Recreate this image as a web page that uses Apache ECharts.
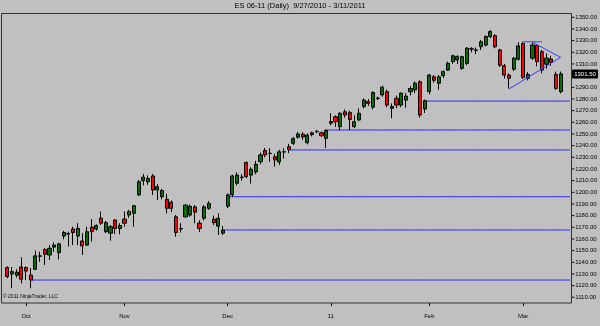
<!DOCTYPE html>
<html><head><meta charset="utf-8">
<script src="https://cdn.jsdelivr.net/npm/echarts@6/dist/echarts.min.js"></script>
<style>html,body{margin:0;padding:0;background:#c0c0c0;}#c{width:600px;height:326px;}</style>
</head><body><div id="c"></div>
<script>
const dates = ['9/27/2010','9/28/2010','9/29/2010','9/30/2010','10/1/2010','10/4/2010','10/5/2010','10/6/2010','10/7/2010','10/8/2010','10/11/2010','10/12/2010','10/13/2010','10/14/2010','10/15/2010','10/18/2010','10/19/2010','10/20/2010','10/21/2010','10/22/2010','10/25/2010','10/26/2010','10/27/2010','10/28/2010','10/29/2010','11/1/2010','11/2/2010','11/3/2010','11/4/2010','11/5/2010','11/8/2010','11/9/2010','11/10/2010','11/11/2010','11/12/2010','11/15/2010','11/16/2010','11/17/2010','11/18/2010','11/19/2010','11/22/2010','11/23/2010','11/24/2010','11/25/2010','11/26/2010','11/29/2010','11/30/2010','12/1/2010','12/2/2010','12/3/2010','12/6/2010','12/7/2010','12/8/2010','12/9/2010','12/10/2010','12/13/2010','12/14/2010','12/15/2010','12/16/2010','12/17/2010','12/20/2010','12/21/2010','12/22/2010','12/23/2010','12/27/2010','12/28/2010','12/29/2010','12/30/2010','12/31/2010','1/3/2011','1/4/2011','1/5/2011','1/6/2011','1/7/2011','1/10/2011','1/11/2011','1/12/2011','1/13/2011','1/14/2011','1/17/2011','1/18/2011','1/19/2011','1/20/2011','1/21/2011','1/24/2011','1/25/2011','1/26/2011','1/27/2011','1/28/2011','1/31/2011','2/1/2011','2/2/2011','2/3/2011','2/4/2011','2/7/2011','2/8/2011','2/9/2011','2/10/2011','2/11/2011','2/14/2011','2/15/2011','2/16/2011','2/17/2011','2/18/2011','2/21/2011','2/22/2011','2/23/2011','2/24/2011','2/25/2011','2/28/2011','3/1/2011','3/2/2011','3/3/2011','3/4/2011','3/7/2011','3/8/2011','3/9/2011','3/10/2011','3/11/2011'];
const opens = [1135.5,1130,1129,1136,1135.5,1129,1134,1145.5,1151,1146.25,1153,1148.25,1162.5,1164.5,1168.5,1162.5,1158.25,1154.75,1170,1168.5,1177.75,1166.25,1165,1176.25,1169,1177,1180.5,1182,1197.75,1210,1209,1214,1202,1196.25,1194,1191.5,1179,1169,1179,1180.5,1187.5,1173.5,1177.75,1186.25,1177,1171,1165,1188,1198,1207.75,1213,1225.5,1214.75,1217.5,1226.25,1235.75,1233.5,1230.5,1226,1234.75,1239,1242,1247.25,1249.75,1242.5,1251,1252.25,1251,1246.25,1259.25,1264.75,1256.25,1269,1268.25,1256.25,1262,1273.5,1277.75,1273,1280.75,1283.5,1286.25,1272,1280.5,1274.75,1279,1286.25,1287.75,1294.75,1271.5,1286.25,1299,1293.5,1300,1304.75,1312,1313.5,1306.25,1310.5,1322.75,1322,1324.75,1326.25,1333.5,1334.25,1322,1308.5,1300.5,1305.5,1314,1327.5,1297.75,1315,1325.75,1320.5,1309.75,1314.25,1301,1286.25];
const highs = [1136.5,1136,1134,1144.25,1136.5,1135,1150,1149,1152,1154.75,1157,1156.75,1167,1166.25,1170.5,1173.5,1165,1170.5,1177,1172.5,1183.5,1175.5,1172,1177,1173.5,1183.5,1185,1189,1210.5,1215.75,1214.5,1215.75,1207,1203,1199,1193,1180.5,1173.5,1190,1189.5,1189,1176,1189,1192.5,1180,1182,1171,1199,1215,1217,1215.5,1226.5,1221.5,1227,1234,1238,1237.75,1233,1236.5,1237.75,1241.5,1247.5,1251.5,1251.5,1250.5,1252,1253.5,1252,1254,1267.75,1266,1268.5,1271,1270,1266,1272,1280.5,1280,1286.5,1282,1291.5,1288,1276.25,1283,1285.5,1285,1291,1295,1296,1279.5,1301.5,1300.5,1300.5,1304.5,1312,1318,1317.5,1317,1324.5,1324.5,1324,1330.5,1334.5,1339,1335.5,1323,1310,1302,1316,1328.5,1329,1303,1328.5,1327,1322,1319,1317,1303.5,1303.5];
const lows = [1126.25,1117.75,1127,1122,1124.75,1117.75,1133.5,1140.5,1137.75,1142,1149,1142.5,1159.75,1153.5,1154.75,1154.75,1146.25,1154,1157.75,1167,1172,1165,1158.5,1164.25,1164,1170.5,1178,1170.5,1196.75,1206,1206.5,1197.75,1193.5,1194,1182,1183,1162,1165.5,1178,1179,1173.5,1166,1176,1185,1172,1163.5,1163.5,1186.5,1196,1206,1210,1212,1207.5,1215.5,1224,1230,1226.25,1222,1223.5,1229,1233.5,1240.5,1246,1245,1241,1248,1250.5,1247.5,1238,1257.5,1256,1253,1264,1253.5,1255,1261,1272,1274,1271,1279,1282,1273,1263.5,1272,1273,1272.5,1283,1285,1264,1268,1284,1294,1288,1298,1304,1310,1310,1305,1309,1320,1318.5,1322,1325,1332,1323.5,1307.5,1297.5,1289,1304,1313,1297,1296,1313.5,1308,1302,1306,1308.5,1287.75,1284.75];
const closes = [1127.75,1132,1131.5,1125.5,1132.5,1124.75,1145.5,1145.25,1147,1152,1154.75,1155.75,1165.5,1164.25,1165.5,1169,1154,1166.25,1166.25,1171.5,1173.5,1174,1170.5,1169,1171.5,1173.5,1183.5,1188.5,1209,1213,1212,1202,1204.75,1201.5,1186.25,1186.25,1165.5,1168.5,1189,1188,1183,1169,1187.5,1190.5,1174,1177.75,1167.5,1197.75,1214,1214.75,1212.75,1213.5,1219.75,1224,1232,1232,1233.25,1227.75,1234.75,1234.5,1236.5,1246,1250,1247.5,1249,1249.5,1252,1248.5,1253,1260.5,1260.5,1267.75,1266.25,1262.5,1260.5,1267.75,1279,1276.25,1285.5,1280.5,1290,1274.75,1273.5,1274.75,1285,1282.5,1289,1293.5,1266.25,1278.5,1300.5,1296,1299,1303.5,1310.5,1317,1316.25,1316.25,1323.5,1323,1321.75,1329,1333.5,1337.75,1324.75,1309,1300.5,1297.75,1315,1325.5,1298.5,1301,1326.25,1312,1304.75,1315,1311.5,1289,1301.5];
const padDates = ['3/14/2011','3/15/2011'];
const supportLevels = [1124.8, 1167.7, 1196.2, 1236.3, 1253.4, 1278.2];
const supportFrom = ['10/4/2010','11/30/2010','12/1/2010','12/20/2010','12/31/2010','1/31/2011'];
const triangleFrom = ['2/24/2011','3/3/2011','3/1/2011'];
const triangleTo = ['3/11/2011','3/11/2011','3/7/2011'];
const triangleFromPrice = [1288.5, 1328.6, 1329.0];
const triangleToPrice = [1315.7, 1315.7, 1329.0];
const monthLabels = {'10/1/2010':'Oct','11/1/2010':'Nov','12/1/2010':'Dec','1/3/2011':'11','2/1/2011':'Feb','3/1/2011':'Mar'};
const yTicks = [1110,1350];

const cats = dates.concat(padDates);
const ohlc = dates.map((d,i)=>[opens[i],closes[i],lows[i],highs[i]]);
const series = [{
  type:'candlestick', data: ohlc, barWidth: 3.6, animation:false, silent:true, z:2,
  itemStyle:{color:'#007000',color0:'#ff0000',borderColor:'#000',borderColor0:'#000',borderWidth:1}
}];
supportLevels.forEach((lv,k)=>{
  const s = cats.indexOf(supportFrom[k]);
  series.push({type:'line',symbol:'none',silent:true,animation:false,z:1,
    lineStyle:{color:'#2b2bff',width:1},
    data: cats.map((c,i)=> i>=s ? lv : null)});
});
triangleFrom.forEach((d,k)=>{
  const a = cats.indexOf(d), b = cats.indexOf(triangleTo[k]);
  series.push({type:'line',symbol:'none',silent:true,animation:false,connectNulls:true,z:3,
    lineStyle:{color:'#3a3aff',width:1},
    data: cats.map((c,i)=> i===a ? triangleFromPrice[k] : (i===b ? triangleToPrice[k] : null))});
});

const chart = echarts.init(document.getElementById('c'),null,{renderer:'canvas'});
const isMonth = (idx,val)=> monthLabels[val] !== undefined;
chart.setOption({
  backgroundColor:'#c0c0c0',
  animation:false,
  grid:{left:4.954,right:27.25,top:5.63,bottom:17.03,containLabel:false},
  xAxis:{type:'category',data:cats,boundaryGap:true,offset:-6,
    axisLine:{show:false},
    axisTick:{show:true,alignWithLabel:true,interval:(i,v)=>isMonth(i,v),length:3,lineStyle:{color:'#000',width:1}},
    axisLabel:{interval:(i,v)=>isMonth(i,v),formatter:(v)=>monthLabels[v]||'',fontSize:6,color:'#000',
      fontFamily:'Liberation Sans, Arial',margin:10},
    splitLine:{show:false}},
  yAxis:{type:'value',position:'right',min:1100,max:1360,interval:10,scale:true,
    axisLine:{show:false},axisTick:{show:false},splitLine:{show:false},
    axisLabel:{margin:-1,formatter:(v)=> (v>=yTicks[0] && v<=yTicks[1]) ? '{t|}{v|'+v.toFixed(2)+'}' : '',
      rich:{t:{width:3,height:1,backgroundColor:'#000'},v:{fontSize:6,color:'#000',fontFamily:'Liberation Sans, Arial',padding:[0,0,0,1]}}}},
  graphic:[
    {type:'rect',shape:{x:1.5,y:13.5,width:570,height:289.5},style:{fill:null,stroke:'#303030',lineWidth:1},z:10,silent:true},
    {type:'text',left:'center',top:2,style:{text:'ES 06-11 (Daily)  9/27/2010 - 3/11/2011',fontSize:7.5,fill:'#000',fontFamily:'Liberation Sans, Arial'},silent:true},
    {type:'text',left:3,top:294,style:{text:'\u00a9 2011 NinjaTrader, LLC',fontSize:5,fill:'#000',fontFamily:'Liberation Sans, Arial'},silent:true}
  ],
  series: series
});
// last-price marker on the price scale
const lastClose = closes[closes.length-1];
const py = chart.convertToPixel({yAxisIndex:0}, lastClose);
chart.setOption({graphic:[
  {type:'rect',id:'pm',shape:{x:572,y:py-4.5,width:26,height:9,r:1},style:{fill:'#000'},z:20,silent:true},
  {type:'text',id:'pt',x:585,y:py,style:{text:lastClose.toFixed(2),fill:'#fff',fontSize:6,fontFamily:'Liberation Sans, Arial',align:'center',verticalAlign:'middle'},z:21,silent:true}
]});
</script></body></html>
